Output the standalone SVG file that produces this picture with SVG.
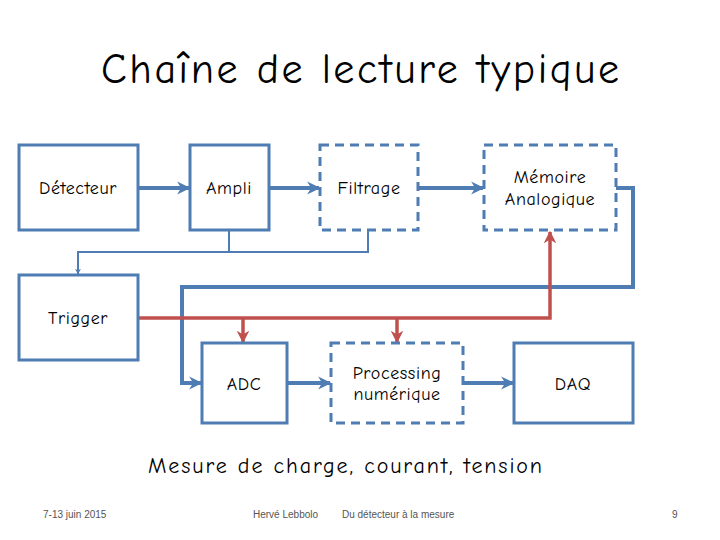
<svg xmlns="http://www.w3.org/2000/svg" width="720" height="540" viewBox="0 0 720 540">
<style>
.box{fill:#fff;stroke:#4f7db3;stroke-width:3}
.dash{stroke-dasharray:9,6}
.lbl{font-family:"Comic Neue","Liberation Sans",sans-serif;font-size:18px;letter-spacing:0.6px;fill:#000;text-anchor:middle}
.blue{fill:none;stroke:#4f7db3;stroke-width:4}
.thin{fill:none;stroke:#4f7db3;stroke-width:2}
.red{fill:none;stroke:#c0504d;stroke-width:3.5}
.foot{font-family:"Liberation Sans",sans-serif;font-size:10px;fill:#555}
</style>
<defs>
<marker id="ab" viewBox="0 0 10 10" refX="9" refY="5" markerWidth="3.3" markerHeight="3.3" orient="auto" markerUnits="strokeWidth">
<path d="M0,0 L10,5 L0,10 L3,5 z" fill="#4f7db3"/>
</marker>
<marker id="ar" viewBox="0 0 10 10" refX="9" refY="5" markerWidth="3.6" markerHeight="3.6" orient="auto" markerUnits="strokeWidth">
<path d="M0,0 L10,5 L0,10 L3,5 z" fill="#c0504d"/>
</marker>
<marker id="at" viewBox="0 0 10 10" refX="9" refY="5" markerWidth="3" markerHeight="3" orient="auto" markerUnits="strokeWidth">
<path d="M0,0 L10,5 L0,10 L3,5 z" fill="#4f7db3"/>
</marker>
</defs>
<text x="360" y="83" font-family="'Comic Neue','Liberation Sans',sans-serif" font-size="42" text-anchor="middle" textLength="518" fill="#000">Chaîne de lecture typique</text>
<g id="connectors">
<line class="blue" x1="138" y1="188" x2="189" y2="188" marker-end="url(#ab)"/>
<line class="blue" x1="269" y1="188" x2="319" y2="188" marker-end="url(#ab)"/>
<line class="blue" x1="418" y1="188" x2="483" y2="188" marker-end="url(#ab)"/>
<polyline class="blue" points="616,188 633,188 633,287 182,287 182,383 201,383" marker-end="url(#ab)"/>
<polyline class="thin" points="229,230 229,252 78,252 78,274" marker-end="url(#at)"/>
<polyline class="thin" points="368,230 368,252 229,252"/>
<polyline class="red" points="138,318 550,318 550,232" marker-end="url(#ar)"/>
<line class="red" x1="243" y1="318" x2="243" y2="342" marker-end="url(#ar)"/>
<line class="red" x1="397" y1="318" x2="397" y2="342" marker-end="url(#ar)"/>
<line class="blue" x1="287" y1="383" x2="330" y2="383" marker-end="url(#ab)"/>
<line class="blue" x1="463" y1="383" x2="513" y2="383" marker-end="url(#ab)"/>
</g>
<g id="detecteur"><rect class="box" x="19" y="145" width="119" height="85"/><text class="lbl" x="78" y="194">Détecteur</text></g>
<g id="ampli"><rect class="box" x="190" y="145" width="79" height="85"/><text class="lbl" x="229" y="194">Ampli</text></g>
<g id="filtrage"><rect class="box dash" x="320" y="145" width="98" height="85"/><text class="lbl" x="369" y="194">Filtrage</text></g>
<g id="memoire"><rect class="box dash" x="484" y="145" width="132" height="85"/><text class="lbl" x="550" y="183">Mémoire</text><text class="lbl" x="550" y="205">Analogique</text></g>
<g id="trigger"><rect class="box" x="19" y="275" width="119" height="85"/><text class="lbl" x="78" y="324">Trigger</text></g>
<g id="adc"><rect class="box" x="202" y="343" width="85" height="80"/><text class="lbl" x="244" y="390">ADC</text></g>
<g id="processing"><rect class="box dash" x="331" y="343" width="132" height="80"/><text class="lbl" x="397" y="379">Processing</text><text class="lbl" x="397" y="400">numérique</text></g>
<g id="daq"><rect class="box" x="514" y="343" width="119" height="80"/><text class="lbl" x="573" y="390">DAQ</text></g>
<text x="345" y="473" font-family="'Comic Neue','Liberation Sans',sans-serif" font-size="22" text-anchor="middle" textLength="394" fill="#000">Mesure de charge, courant, tension</text>
<text class="foot" x="43" y="518">7-13 juin 2015</text>
<text class="foot" x="253" y="518">Hervé Lebbolo</text>
<text class="foot" x="342" y="518">Du détecteur à la mesure</text>
<text class="foot" x="672" y="518">9</text>
</svg>
